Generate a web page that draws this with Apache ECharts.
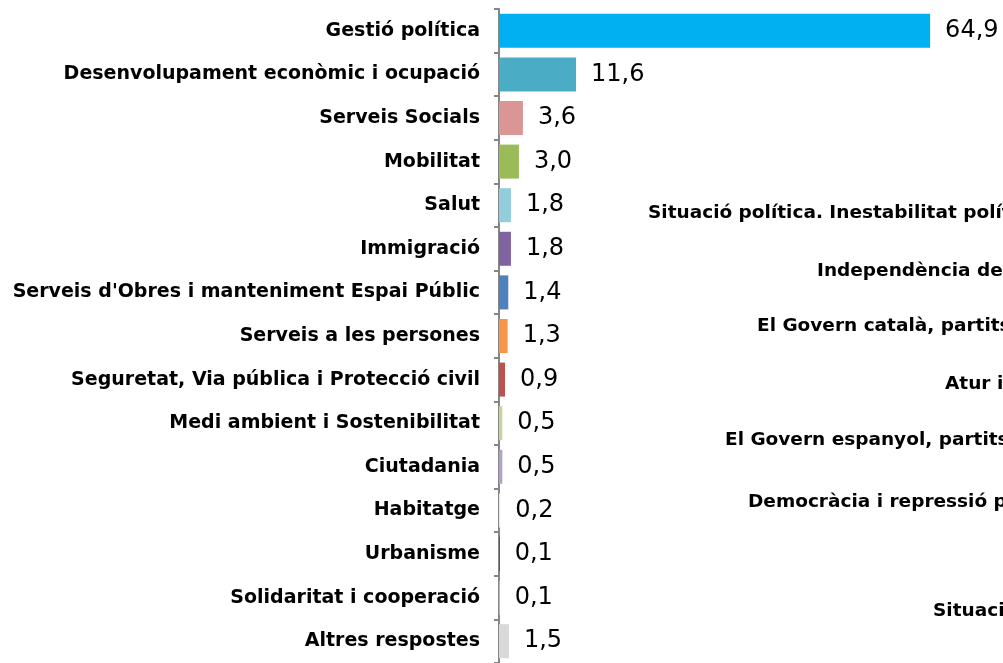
<!DOCTYPE html>
<html>
<head>
<meta charset="utf-8">
<title>Temes</title>
<script src="https://cdn.jsdelivr.net/npm/echarts@6/dist/echarts.min.js"></script>
<style>
  html, body { margin: 0; padding: 0; background: #fff; }
  #chart { width: 1003px; height: 663px; }
</style>
</head>
<body>
<div id="chart"></div>
<script>
// categories, top to bottom
const categories = [
  "Gestió política",
  "Desenvolupament econòmic i ocupació",
  "Serveis Socials",
  "Mobilitat",
  "Salut",
  "Immigració",
  "Serveis d'Obres i manteniment Espai Públic",
  "Serveis a les persones",
  "Seguretat, Via pública i Protecció civil",
  "Medi ambient i Sostenibilitat",
  "Ciutadania",
  "Habitatge",
  "Urbanisme",
  "Solidaritat i cooperació",
  "Altres respostes"
];
const values = [64.9, 11.6, 3.6, 3.0, 1.8, 1.8, 1.4, 1.3, 0.9, 0.5, 0.5, 0.2, 0.1, 0.1, 1.5];
const barColors = [
  "#00b0f0", "#4bacc6", "#da9694", "#9bbb59", "#92cddc",
  "#8064a2", "#4f81bd", "#f79646", "#c0504d", "#c3d69b",
  "#b3a2c7", "#eeece1", "#1f497d", "#fac090", "#d9d9d9"
];
// labels of the neighbouring chart, cut off by the right edge
const sideLabels = [
  "Situació política. Inestabilitat política",
  "Independència de Catalunya",
  "El Govern català, partits polítics",
  "Atur i precarietat",
  "El Govern espanyol, partits polítics",
  "Democràcia i repressió política",
  "Situació econòmica"
];

const font = "DejaVu Sans, Verdana, sans-serif";
const chart = echarts.init(document.getElementById("chart"));

// positions of the cut-off labels on the right
const sidePos = [[648, 214], [817, 272], [757, 327], [945, 385], [725, 441], [748, 503], [933, 612]];

chart.setOption({
  animation: false,
  grid: { left: 499, top: 9, width: 465, height: 660 },
  xAxis: {
    type: "value",
    min: 0,
    max: 70,
    show: false
  },
  yAxis: {
    type: "category",
    inverse: true,
    data: categories,
    axisLine: { lineStyle: { color: "#868686", width: 2 } },
    axisTick: { show: true, length: 5, lineStyle: { color: "#868686", width: 2 } },
    axisLabel: {
      margin: 19,
      color: "#000",
      fontFamily: font,
      fontWeight: "bold",
      fontSize: 19,
      padding: [4, 0, 0, 0]
    }
  },
  series: [{
    type: "bar",
    data: values.map((v, i) => ({ value: v, itemStyle: { color: barColors[i] } })),
    barCategoryGap: "22%",
    label: {
      show: true,
      position: "right",
      distance: 15,
      color: "#000",
      fontFamily: font,
      fontSize: 24,
      formatter: p => p.value.toFixed(1).replace(".", ",")
    }
  }],
  graphic: sideLabels.map((t, i) => ({
    type: "text",
    left: sidePos[i][0],
    top: sidePos[i][1] - 10,
    style: { text: t, fill: "#000", font: "bold 18.5px " + font }
  }))
});
</script>
</body>
</html>
